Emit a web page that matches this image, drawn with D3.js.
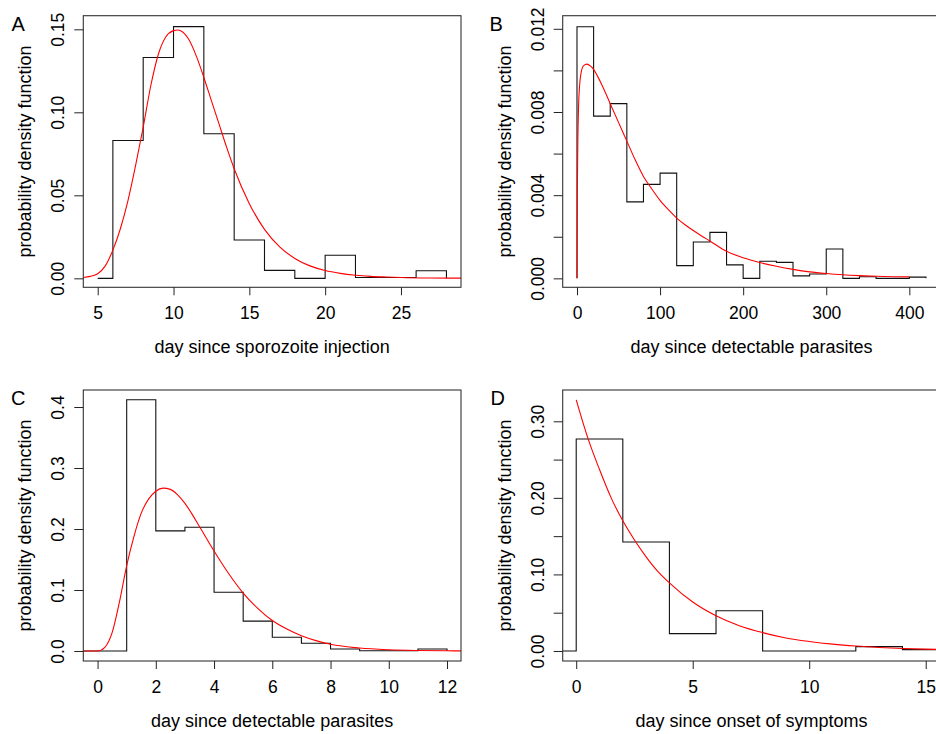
<html>
<head>
<script src='https://d3js.org/d3.v7.min.js'></script>
<style>
body { margin: 0; background: #fff; }
text { font-family: "Liberation Sans", Arial, sans-serif; fill: #000; }
</style>
</head>
<body>
<svg id="chart" width=936 height=734></svg>

<script>
// ---- panel A : day since sporozoite injection ----
var aEdges   = [5, 6, 8, 10, 12, 14, 16, 18, 20, 22, 24, 26, 28];
var aHeights = [0, 0.083, 0.133, 0.1516, 0.0871, 0.0231, 0.0048, 0, 0.0139, 0.0005, 0.0005, 0.0046];
var aCurveX  = [4.05, 4.5, 5, 5.5, 6, 6.5, 7, 7.5, 8, 8.5, 9, 9.5, 10, 10.25, 10.5, 11, 11.5, 12, 12.5, 13,
                13.5, 14, 15, 16, 17, 18, 19, 20, 21, 22, 23, 24, 25, 27, 29];
var aCurveY  = [0.0005, 0.0012, 0.0028, 0.0075, 0.017, 0.030, 0.047, 0.068, 0.091, 0.116, 0.135, 0.1455, 0.1492, 0.1496, 0.149, 0.144, 0.134, 0.121, 0.107, 0.093,
                0.079, 0.066, 0.045, 0.0295, 0.019, 0.012, 0.0075, 0.0047, 0.003, 0.0019, 0.0012, 0.0008, 0.0005, 0.0002, 0.0001];
var aXTicks  = [5, 10, 15, 20, 25];
var aYTicks  = [0, 0.05, 0.10, 0.15];
var aYLabels = ["0.00", "0.05", "0.10", "0.15"];

// ---- panel B : day since detectable parasites ----
var bEdges   = [0, 20, 40, 60, 80, 100, 120, 140, 160, 180, 200, 220, 240, 260, 280, 300, 320, 340, 360, 380, 400, 420];
var bHeights = [0.0121, 0.0078, 0.0084, 0.00368, 0.00452, 0.00506, 0.00061, 0.00175, 0.00221, 0.00065, 0,
                0.00082, 0.00077, 0.00012, 0.00021, 0.00141, 0, 0.00008, 0, 0, 0.00006];
var bCurveX  = [0, 0.5, 1, 2, 3, 5, 8, 12, 16, 20, 25, 30, 40, 50, 60, 70, 80, 90, 100, 110,
                120, 130, 140, 150, 160, 180, 200, 220, 240, 260, 280, 300, 320, 340, 360, 380, 400];
var bCurveY  = [0, 0.0045, 0.0065, 0.0084, 0.0092, 0.0099, 0.01023, 0.0103, 0.01022, 0.01005, 0.0097, 0.0093, 0.0084, 0.0075, 0.0066, 0.0057, 0.0049, 0.0043, 0.00375, 0.0033,
                0.0029, 0.00258, 0.0023, 0.00204, 0.0018, 0.0013, 0.00099, 0.00076, 0.00058, 0.00043, 0.00031, 0.00023, 0.00017, 0.00013, 0.0001, 0.00008, 0.00007];
var bXTicks  = [0, 100, 200, 300, 400];
var bYTicks  = [0, 0.002, 0.004, 0.006, 0.008, 0.010, 0.012];
var bYLabels = ["0.000", "", "0.004", "", "0.008", "", "0.012"];

// ---- panel C : day since detectable parasites ----
var cEdges   = [-1, 1, 2, 3, 4, 5, 6, 7, 8, 9, 10, 11, 12];
var cHeights = [0, 0.412, 0.197, 0.203, 0.0964, 0.049, 0.0225, 0.0126, 0.0033, 0.0005, 0.0005, 0.0033];
var cCurveX  = [-0.49, 0, 0.25, 0.5, 0.75, 1, 1.25, 1.5, 1.75, 2, 2.25, 2.5, 2.75, 3, 3.25, 3.5, 4, 4.5, 5, 5.5,
                6, 6.5, 7, 7.5, 8, 9, 10, 11, 12, 12.48];
var cCurveY  = [0, 0, 0.006, 0.03, 0.08, 0.14, 0.188, 0.226, 0.249, 0.262, 0.267, 0.265, 0.256, 0.242, 0.224, 0.204, 0.164, 0.127, 0.095, 0.070,
                0.050, 0.036, 0.025, 0.017, 0.011, 0.0048, 0.002, 0.0008, 0.0003, 0.0002];
var cXTicks  = [0, 2, 4, 6, 8, 10, 12];
var cYTicks  = [0, 0.1, 0.2, 0.3, 0.4];
var cYLabels = ["0.0", "0.1", "0.2", "0.3", "0.4"];

// ---- panel D : day since onset of symptoms ----
var dEdges   = [-2, 0, 2, 4, 6, 8, 10, 12, 14, 16];
var dHeights = [0, 0.2768, 0.1423, 0.0226, 0.0526, 0, 0, 0.0057, 0.0017];
var dCurveX  = [0, 0.5, 1, 1.5, 2, 2.5, 3, 3.5, 4, 5, 6, 7, 8, 9, 10, 11, 12, 13, 14, 15, 15.63];
var dCurveY  = [0.328, 0.278, 0.237, 0.200, 0.170, 0.145, 0.123, 0.104, 0.089, 0.064, 0.046, 0.033, 0.024, 0.017, 0.0124, 0.0089, 0.0064, 0.0046, 0.0033, 0.0024, 0.002];
var dXTicks  = [0, 5, 10, 15];
var dYTicks  = [0, 0.05, 0.10, 0.15, 0.20, 0.25, 0.30];
var dYLabels = ["0.00", "", "0.10", "", "0.20", "", "0.30"];

var svg = d3.select("#chart");
var yTitle = "probability density function";

function drawPanel(p) {
  var x = d3.scaleLinear().domain(p.xdom).range([p.left, p.right]);
  var y = d3.scaleLinear().domain(p.ydom).range([p.bottom, p.top]);
  var g = svg.append("g");

  g.append("clipPath").attr("id", "clip" + p.id)
    .append("rect")
    .attr("x", p.left).attr("y", p.top)
    .attr("width", p.right - p.left).attr("height", p.bottom - p.top);

  var plot = g.append("g").attr("clip-path", "url(#clip" + p.id + ")");

  // histogram drawn as a step line
  var pts = [[p.edges[0], 0]];
  p.heights.forEach(function(h, i) { pts.push([p.edges[i], h]); });
  pts.push([p.edges[p.edges.length - 1], 0]);
  var step = d3.line()
    .x(function(d) { return x(d[0]); })
    .y(function(d) { return y(d[1]); })
    .curve(d3.curveStepAfter);
  plot.append("path").attr("d", step(pts))
    .attr("fill", "none").attr("stroke", "#111").attr("stroke-width", 1.1);

  // fitted density
  var curve = d3.line()
    .x(function(d, i) { return x(p.cx[i]); })
    .y(function(d) { return y(d); })
    .curve(d3.curveMonotoneX);
  plot.append("path").attr("d", curve(p.cy))
    .attr("fill", "none").attr("stroke", "#ff0000").attr("stroke-width", 1.1);

  // box
  g.append("rect")
    .attr("x", p.left).attr("y", p.top)
    .attr("width", p.right - p.left).attr("height", p.bottom - p.top)
    .attr("fill", "none").attr("stroke", "#333").attr("stroke-width", 1.1);

  // x axis
  var xa = g.append("g").attr("transform", "translate(0," + p.bottom + ")")
    .call(d3.axisBottom(x).tickValues(p.xticks).tickSize(8).tickSizeOuter(0).tickFormat(d3.format("d")));
  xa.select(".domain").remove();
  xa.selectAll(".tick line").attr("stroke", "#222");
  xa.selectAll(".tick text").attr("y", 32).attr("dy", null)
    .style("font-size", "17.5px").style("font-family", '"Liberation Sans", Arial, sans-serif');

  // y axis (rotated labels like R)
  var ya = g.append("g").attr("transform", "translate(" + p.left + ",0)")
    .call(d3.axisLeft(y).tickValues(p.yticks).tickSize(9).tickSizeOuter(0)
      .tickFormat(function(d, i) { return p.ylabels[i]; }));
  ya.select(".domain").remove();
  ya.selectAll(".tick line").attr("stroke", "#222");
  ya.selectAll(".tick text")
    .attr("transform", "rotate(-90)")
    .attr("x", 0).attr("y", -19).attr("dy", null)
    .attr("text-anchor", "middle")
    .style("font-size", "17.5px").style("font-family", '"Liberation Sans", Arial, sans-serif');

  // axis titles
  g.append("text")
    .attr("x", (p.left + p.right) / 2).attr("y", p.bottom + 66)
    .attr("text-anchor", "middle").style("font-size", "18px")
    .text(p.xtitle);
  g.append("text")
    .attr("transform", "translate(" + (p.left - 52) + "," + ((p.top + p.bottom) / 2) + ") rotate(-90)")
    .attr("text-anchor", "middle").style("font-size", "18px")
    .text(yTitle);

  // panel letter
  g.append("text")
    .attr("x", p.lx).attr("y", p.top + 15)
    .style("font-size", "20px")
    .text(p.letter);
}

drawPanel({id: "A", letter: "A", lx: 11.5, left: 83.3, right: 461, top: 15.7, bottom: 287.3,
  xdom: [4.05, 28.96], ydom: [-0.0054, 0.1582], edges: aEdges, heights: aHeights,
  cx: aCurveX, cy: aCurveY, xticks: aXTicks, yticks: aYTicks, ylabels: aYLabels,
  xtitle: "day since sporozoite injection"});

drawPanel({id: "B", letter: "B", lx: 489.5, left: 562.7, right: 940.4, top: 15.7, bottom: 287.3,
  xdom: [-17.2, 437.4], ydom: [-0.00043, 0.01263], edges: bEdges, heights: bHeights,
  cx: bCurveX, cy: bCurveY, xticks: bXTicks, yticks: bYTicks, ylabels: bYLabels,
  xtitle: "day since detectable parasites"});

drawPanel({id: "C", letter: "C", lx: 11, left: 83.3, right: 461, top: 390, bottom: 661,
  xdom: [-0.49, 12.48], ydom: [-0.0164, 0.4279], edges: cEdges, heights: cHeights,
  cx: cCurveX, cy: cCurveY, xticks: cXTicks, yticks: cYTicks, ylabels: cYLabels,
  xtitle: "day since detectable parasites"});

drawPanel({id: "D", letter: "D", lx: 490.5, left: 562.7, right: 940.4, top: 390, bottom: 661,
  xdom: [-0.58, 15.63], ydom: [-0.0131, 0.3409], edges: dEdges, heights: dHeights,
  cx: dCurveX, cy: dCurveY, xticks: dXTicks, yticks: dYTicks, ylabels: dYLabels,
  xtitle: "day since onset of symptoms"});
</script>
</body>
</html>
